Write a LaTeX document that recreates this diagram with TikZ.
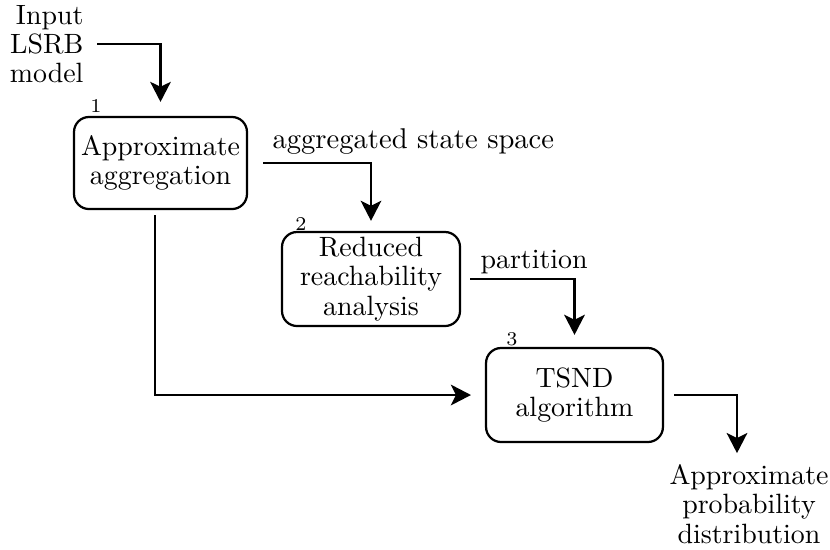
\documentclass[tikz,border=0pt]{standalone}
\usetikzlibrary{arrows.meta}
\begin{document}
\begin{tikzpicture}[x=0.3584pt,y=-0.3584pt,
  txt/.style={font=\fontsize{10pt}{10.5pt}\selectfont, inner sep=0pt},
  proc/.style={draw, line width=0.8pt, rounded corners=5.4pt, align=center,
    inner sep=0pt, font=\fontsize{10pt}{10.5pt}\selectfont},
  num/.style={font=\scriptsize, inner sep=0pt},
  flow/.style={draw, line width=0.8pt,
    -{Stealth[length=7.2pt,width=7.4pt,inset=1.8pt]}}
]
\useasboundingbox (0,0) rectangle (830,549);

% processing steps
\node[proc, minimum width=62pt, minimum height=33pt] (b1) at (160.5,163) {Approximate\\aggregation};
\node[proc, minimum width=63.8pt, minimum height=33.7pt] (b2) at (371,279) {Reduced\\reachability\\analysis};
\node[proc, minimum width=63.4pt, minimum height=33.7pt] (b3) at (574.5,395) {TSND\\algorithm};

% step numbers
\node[num] (n1) at (96,106) {1};
\node[num] (n2) at (301,224) {2};
\node[num] (n3) at (512,339.5) {3};

% input and output
\node[txt, align=right, anchor=east] (in) at (84,44) {Input\\LSRB\\model};
\node[txt, align=center, anchor=north] (out) at (749,464) {Approximate\\probability\\distribution};

% data flow
\draw[flow, shorten <=4.7pt, shorten >=5pt] (in.east) -| (b1.north);
\draw[flow, shorten <=5.4pt, shorten >=3.6pt] (b1.east) -| (b2.north);
\draw[flow, shorten <=3.2pt, shorten >=4.3pt] (b2.east) -| (b3.north);
\draw[flow, shorten <=1.8pt, shorten >=5pt] ([xshift=-2pt]b1.south) |- (b3.west);
\draw[flow, shorten <=3.6pt, shorten >=3.9pt] (b3.east) -| ([xshift=-4.3pt]out.north);

% flow labels
\node[txt, anchor=base west, font=\fontsize{10.25pt}{10.5pt}\selectfont] (l1) at (272,148) {aggregated state space};
\node[txt, anchor=base west] (l2) at (480,268) {partition};
\end{tikzpicture}
\end{document}
